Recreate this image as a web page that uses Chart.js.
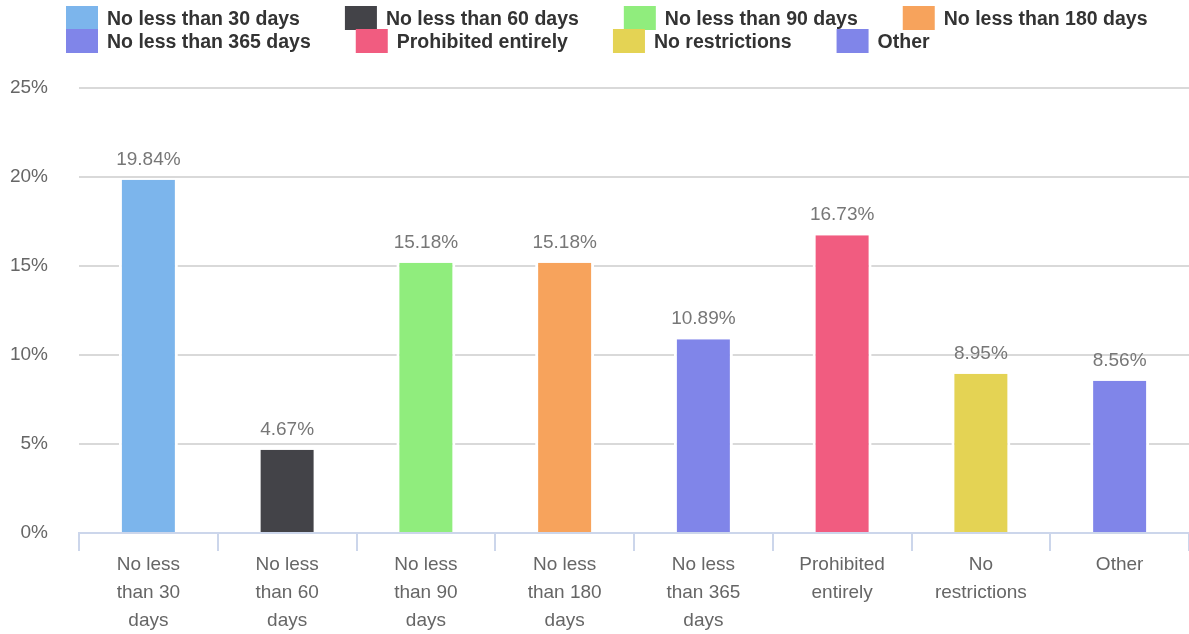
<!DOCTYPE html>
<html lang="en">
<head>
<meta charset="UTF-8">
<meta name="viewport" content="width=device-width, initial-scale=1.0">
<title>Minimum Rental Period</title>
<script src="https://cdn.jsdelivr.net/npm/chart.js"></script>
<style>
    html, body {
        margin: 0;
        padding: 0;
        background: #fff;
    }

    #wrap {
        width: 1189px;
        height: 634px;
    }
</style>
</head>
<body>
<div id="wrap"><canvas id="barChart"></canvas></div>

<script>
    const categories = ['No less than 30 days', 'No less than 60 days', 'No less than 90 days', 'No less than 180 days',
        'No less than 365 days', 'Prohibited entirely', 'No restrictions', 'Other'];
    const tickLabels = [
        ['No less', 'than 30', 'days'],
        ['No less', 'than 60', 'days'],
        ['No less', 'than 90', 'days'],
        ['No less', 'than 180', 'days'],
        ['No less', 'than 365', 'days'],
        ['Prohibited', 'entirely'],
        ['No', 'restrictions'],
        ['Other']
    ];
    const shares = [19.84, 4.67, 15.18, 15.18, 10.89, 16.73, 8.95, 8.56];
    const barColors = ['#7cb5ec', '#434348', '#90ed7d', '#f7a35c', '#8085e9', '#f15c80', '#e4d354', '#8085e9'];

    const FONT = 'Arial, "Liberation Sans", sans-serif';

    // legend in two rows of four, drawn above the plot
    const topLegend = {
        id: 'topLegend',
        afterDraw(chart) {
            const ctx = chart.ctx;
            ctx.save();
            ctx.font = 'bold 19.5px ' + FONT;
            ctx.textBaseline = 'middle';
            const perRow = 4;
            for (let r = 0; r * perRow < categories.length; r++) {
                let x = 66;
                const yMid = 18 + r * 23;
                for (let i = r * perRow; i < Math.min(categories.length, (r + 1) * perRow); i++) {
                    ctx.fillStyle = barColors[i];
                    ctx.fillRect(x, yMid - 12, 32, 24);
                    ctx.fillStyle = '#333';
                    ctx.fillText(categories[i], x + 41, yMid + 2);
                    x += 41 + ctx.measureText(categories[i]).width + 45;
                }
            }
            ctx.restore();
        }
    };

    // percentage labels above the bars
    const valueLabels = {
        id: 'valueLabels',
        afterDatasetsDraw(chart) {
            const ctx = chart.ctx;
            const meta = chart.getDatasetMeta(0);
            ctx.save();
            ctx.font = '19px ' + FONT;
            ctx.fillStyle = '#777';
            ctx.textAlign = 'center';
            ctx.textBaseline = 'alphabetic';
            meta.data.forEach((bar, i) => {
                ctx.fillText(shares[i].toFixed(2) + '%', bar.x, bar.y - 15);
            });
            ctx.restore();
        }
    };

    const ctx = document.getElementById('barChart').getContext('2d');

    new Chart(ctx, {
        type: 'bar',
        data: {
            labels: tickLabels,
            datasets: [{
                label: 'Share',
                data: shares,
                backgroundColor: barColors,
                borderColor: '#fff',
                borderWidth: { left: 3, right: 3, top: 0, bottom: 0 },
                borderSkipped: false,
                barPercentage: 0.425,
                categoryPercentage: 1
            }]
        },
        options: {
            responsive: true,
            maintainAspectRatio: false,
            animation: false,
            layout: {
                padding: { top: 88, left: 10, right: 0, bottom: 0 }
            },
            plugins: {
                legend: { display: false },
                tooltip: {
                    callbacks: {
                        title: items => categories[items[0].dataIndex],
                        label: item => item.parsed.y.toFixed(2) + '%'
                    }
                }
            },
            scales: {
                x: {
                    afterFit: s => { s.height = 101; },
                    grid: {
                        offset: true,
                        drawOnChartArea: false,
                        drawTicks: true,
                        tickLength: 18,
                        color: '#ccd6eb',
                        lineWidth: 2
                    },
                    border: { color: '#ccd6eb', width: 2 },
                    ticks: {
                        padding: 0,
                        color: '#666',
                        maxRotation: 0,
                        font: { family: FONT, size: 19, lineHeight: 1.47 }
                    }
                },
                y: {
                    min: 0,
                    max: 25,
                    afterFit: s => { s.width = 69; },
                    border: { display: false },
                    grid: {
                        drawTicks: false,
                        lineWidth: 2,
                        color: c => c.tick.value === 0 ? 'rgba(0,0,0,0)' : '#d9d9d9'
                    },
                    ticks: {
                        stepSize: 5,
                        padding: 31,
                        color: '#666',
                        font: { family: FONT, size: 19 },
                        callback: v => v + '%'
                    }
                }
            }
        },
        plugins: [topLegend, valueLabels]
    });
</script>
</body>
</html>
